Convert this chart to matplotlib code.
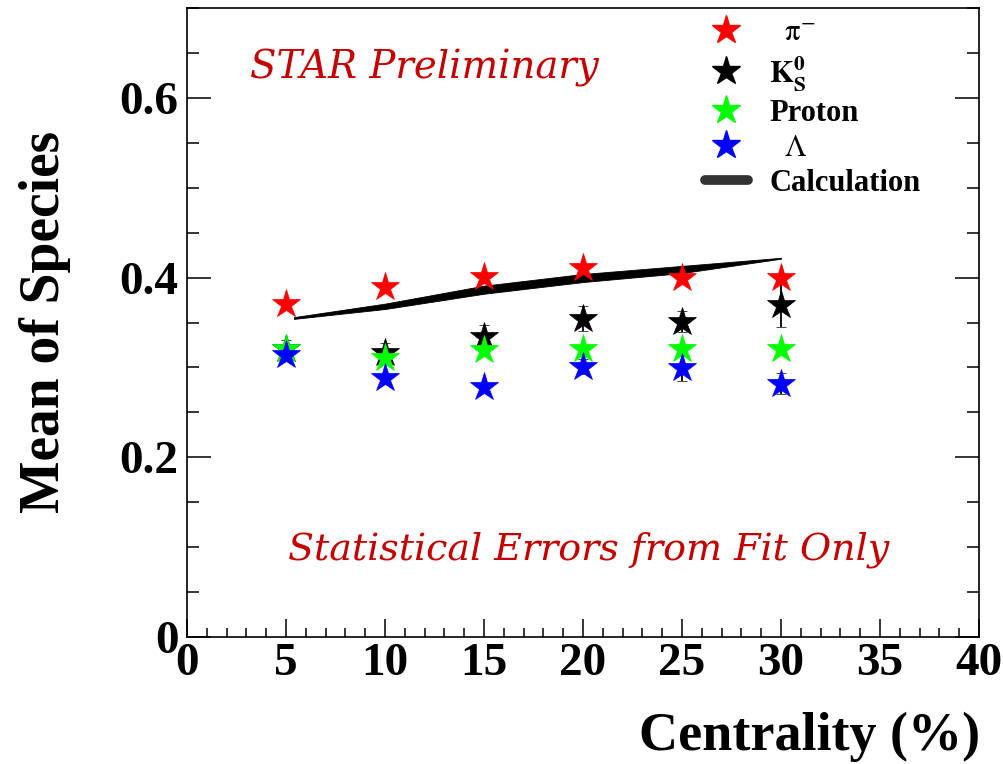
import numpy as np
import matplotlib.pyplot as plt
from matplotlib.lines import Line2D
from matplotlib.ticker import MultipleLocator

plt.rcParams['mathtext.fontset'] = 'stix'
plt.rcParams['font.family'] = ['Liberation Serif', 'DejaVu Serif']

# data
centrality = [5, 10, 15, 20, 25, 30]
pion = [0.371, 0.390, 0.401, 0.411, 0.400, 0.400]
pion_err = [0.003, 0.003, 0.003, 0.003, 0.003, 0.003]
kshort = [0.320, 0.316, 0.334, 0.354, 0.351, 0.370]
kshort_err = [0.010, 0.011, 0.013, 0.014, 0.012, 0.025]
proton = [0.321, 0.311, 0.319, 0.321, 0.321, 0.321]
proton_err = [0.003, 0.003, 0.003, 0.003, 0.003, 0.003]
lam = [0.314, 0.288, 0.278, 0.301, 0.299, 0.282]
lam_err = [0.004, 0.004, 0.004, 0.008, 0.014, 0.012]

calc_x = [5.4, 10, 15, 20, 25, 30]
calc_hi = [0.356, 0.371, 0.391, 0.404, 0.413, 0.422]
calc_lo = [0.354, 0.365, 0.382, 0.395, 0.405, 0.421]

x_ticks = [0, 5, 10, 15, 20, 25, 30, 35, 40]
y_ticks = [0, 0.2, 0.4, 0.6]
y_ticklabels = ['0', '0.2', '0.4', '0.6']

red_txt = '#c40000'

fig = plt.figure(figsize=(10.04, 7.64), dpi=100)
ax = fig.add_axes([187 / 1004, 1 - 637 / 764, 792 / 1004, 629 / 764])

ax.fill_between(calc_x, calc_lo, calc_hi, color='k', lw=0.6)

series = [(pion, pion_err, 'red'), (kshort, kshort_err, 'black'),
          (proton, proton_err, '#00ff00'), (lam, lam_err, 'blue')]
for vals, errs, col in series:
    ax.errorbar(centrality, vals, yerr=errs, fmt='*', color=col, ms=21,
                mec=col, mew=0.5, ecolor='k', elinewidth=1.3, capsize=3.5,
                capthick=1.3)

ax.set_xlim(0, 40)
ax.set_ylim(0, 0.7)
ax.set_xticks(x_ticks)
ax.set_xticklabels([str(t) for t in x_ticks])
ax.set_yticks(y_ticks)
ax.set_yticklabels(y_ticklabels)
ax.xaxis.set_minor_locator(MultipleLocator(1))
ax.yaxis.set_minor_locator(MultipleLocator(0.05))

ax.tick_params(axis='both', which='both', direction='in', top=False, right=True, width=1.1)
ax.tick_params(axis='x', which='major', length=13, pad=4, labelsize=34)
ax.tick_params(axis='x', which='minor', length=6.5)
ax.tick_params(axis='y', which='major', length=17, pad=6, labelsize=34)
ax.tick_params(axis='y', which='minor', length=8.6)
for lab in ax.get_xticklabels() + ax.get_yticklabels():
    lab.set_fontweight('bold')
for sp in ax.spines.values():
    sp.set_linewidth(1.2)

fig.text(45 / 1004, 1 - 322 / 764, 'Mean of Species', rotation=90, ha='center',
         va='center', fontsize=40, fontweight='bold')
fig.text(980 / 1004, 1 - 737 / 764, 'Centrality (%)', ha='right', va='center',
         fontsize=39, fontweight='bold')

fig.text(250 / 1004, 1 - 68 / 764, 'STAR Preliminary', ha='left', va='center',
         fontsize=27.8, style='italic', color=red_txt, family='DejaVu Serif')
fig.text(288 / 1004, 1 - 550 / 764, 'Statistical Errors from Fit Only', ha='left',
         va='center', fontsize=27.4, style='italic', color=red_txt, family='DejaVu Serif')

handles = [Line2D([], [], marker='*', ls='none', color='red', ms=21),
           Line2D([], [], marker='*', ls='none', color='black', ms=21),
           Line2D([], [], marker='*', ls='none', color='#00ff00', ms=21),
           Line2D([], [], marker='*', ls='none', color='blue', ms=21),
           Line2D([], [], color='#333333', lw=7, solid_capstyle='round')]
labels = [r'  $\mathrm{\pi}^{\mathrm{-}}$', r'$\mathbf{K^{0}_{S}}$', 'Proton', r'  $\Lambda$', 'Calculation']
ax.legend(handles, labels, loc='upper left', bbox_to_anchor=((705 - 187) / 792, 0.983),
          frameon=False, borderpad=0, borderaxespad=0, handlelength=1.4,
          handletextpad=0.7, labelspacing=0.2,
          prop={'family': 'Liberation Serif', 'weight': 'bold', 'size': 22})

fig.savefig('out.png', dpi=100)
